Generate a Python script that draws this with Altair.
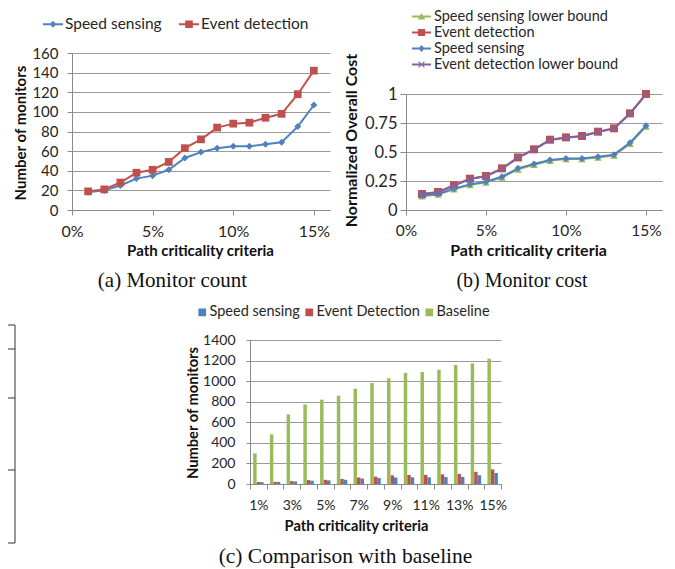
import altair as alt
import pandas as pd

W, H = 659, 561
FONT = "Lato"
SERIF = "Liberation Serif"
TXT = "#262626"
GRID = "#9a9a9a"
AXIS = "#8a8a8a"
BLUE, RED, GREEN, PURPLE = "#4F81BD", "#C0504D", "#9BBB59", "#8064A2"

# ---------------- data ----------------
pct = list(range(1, 16))
categories = [f"{p}%" for p in pct]

a_series = ["Speed sensing", "Event detection"]
a_speed = [18, 20, 25, 32, 35, 41, 53, 59, 63, 65, 65, 67, 69, 85, 107]
a_event = [19, 21, 28, 38, 41, 49, 63, 72, 84, 88, 89, 94, 98, 118, 142]

b_series = ["Speed sensing lower bound", "Event detection", "Speed sensing", "Event detection lower bound"]
b_speed_lb = [0.118, 0.133, 0.178, 0.215, 0.238, 0.280, 0.350, 0.390, 0.425, 0.440, 0.440, 0.453, 0.470, 0.572, 0.720]
b_event = [0.138, 0.155, 0.213, 0.270, 0.293, 0.359, 0.453, 0.523, 0.606, 0.626, 0.638, 0.675, 0.704, 0.833, 1.0]
b_speed = [0.124, 0.138, 0.184, 0.221, 0.244, 0.287, 0.359, 0.397, 0.431, 0.445, 0.445, 0.460, 0.477, 0.580, 0.727]
b_event_lb = [0.136, 0.152, 0.210, 0.267, 0.290, 0.355, 0.450, 0.520, 0.603, 0.623, 0.635, 0.672, 0.701, 0.830, 0.997]

c_series = ["Speed sensing", "Event Detection", "Baseline"]
c_speed = [18, 20, 25, 32, 35, 41, 53, 59, 63, 65, 65, 67, 69, 85, 107]
c_event = [19, 21, 28, 38, 41, 49, 63, 72, 84, 88, 89, 94, 98, 118, 142]
c_baseline = [298, 483, 677, 774, 820, 859, 927, 982, 1027, 1079, 1089, 1111, 1157, 1173, 1218]

captions = ["(a) Monitor count", "(b) Monitor cost", "(c) Comparison with baseline"]

# ---------------- marker paths ----------------
LINE = "M-1,-0.1H1V0.1H-1Z"
DIAMOND = "M0,-0.36L0.32,0L0,0.36L-0.32,0Z"
SQUARE = "M-0.38,-0.38H0.38V0.38H-0.38Z"
TRIANGLE = "M0,-0.38L0.4,0.32L-0.4,0.32Z"
XSMALL = "M-0.35,-0.27L-0.27,-0.35L0.35,0.27L0.27,0.35ZM0.27,-0.35L0.35,-0.27L-0.27,0.35L-0.35,0.27Z"
XMARK = "M-1,-0.75L-0.75,-1L1,0.75L0.75,1ZM0.75,-1L1,-0.75L-0.75,1L-1,0.75Z"


def long_df(names, value_lists, key="pct", keys=None):
    rows = []
    keys = keys if keys is not None else pct
    for name, vals in zip(names, value_lists):
        for k, v in zip(keys, vals):
            rows.append({key: k, "value": v, "series": name})
    return pd.DataFrame(rows)


def axis(**kw):
    base = dict(labelFont=FONT, labelColor=TXT, titleFont=FONT, titleColor="#111",
                titleFontWeight="bold", domainColor=AXIS, tickColor=AXIS, gridColor=GRID,
                labelFlush=False, labelOverlap=False, titleBaseline="middle")
    base.update(kw)
    return alt.Axis(**base)


def legend(**kw):
    base = dict(orient="none", title=None, labelFont=FONT, labelColor=TXT, padding=0,
                symbolStrokeWidth=0, rowPadding=0, labelLimit=400)
    base.update(kw)
    return alt.Legend(**base)


def line_panel(df, names, colors, shapes, sizes, leg_paths, xs, ys, x_axis, y_axis, leg):
    """Every layer gets the same explicit scales, so independent scales coincide."""
    layers = []
    first = True
    for name, shape, size in zip(names, shapes, sizes):
        sub = alt.Chart(df).transform_filter(alt.datum.series == name)
        for kind in ("line", "point"):
            x = alt.X("pct:Q", scale=xs, axis=x_axis if first else None)
            y = alt.Y("value:Q", scale=ys, axis=y_axis if first else None)
            first = False
            color = alt.Color("series:N", scale=alt.Scale(domain=names, range=colors), legend=None)
            if kind == "line":
                layers.append(sub.mark_line(strokeWidth=2).encode(x=x, y=y, color=color))
            else:
                layers.append(sub.mark_point(filled=True, shape=shape, size=size, opacity=1,
                                             strokeWidth=0).encode(x=x, y=y, color=color))
    leg_layer = alt.Chart(alt.Data(values=[])).mark_point(filled=True, opacity=1).encode(
        color=alt.Color("series:N", scale=alt.Scale(domain=names, range=colors), legend=leg),
        shape=alt.Shape("series:N", scale=alt.Scale(domain=names, range=leg_paths), legend=leg),
    )
    layers.append(leg_layer)
    return layers


# ---------------- panel (a) ----------------
dfa = long_df(a_series, [a_speed, a_event])
xs_a = alt.Scale(domain=[0, 16], range=[64, 322], nice=False, zero=False)
ys_a = alt.Scale(domain=[0, 160], range=[202, 45], nice=False)
xax_a = axis(orient="bottom", offset=202 - H, values=[0, 5, 10, 15],
             labelExpr="datum.value + '%'", grid=False, tickSize=5, labelPadding=8,
             labelFontSize=16, title="Path criticality criteria", titleFontSize=15,
             titleX=192, titleY=40)
yax_a = axis(orient="left", offset=-64, values=list(range(0, 161, 20)),
             labelExpr="'' + datum.value", grid=True, tickSize=5, labelPadding=9,
             labelFontSize=15, title="Number of monitors", titleFontSize=15,
             titleX=-52, titleY=124.5)
leg_a = legend(legendX=35, legendY=6, direction="horizontal", columns=2, symbolSize=400,
               labelFontSize=15.5, labelOffset=2, columnPadding=17)
panel_a = line_panel(dfa, a_series, [BLUE, RED], ["diamond", "square"], [49, 60],
                     [LINE + DIAMOND, LINE + SQUARE], xs_a, ys_a, xax_a, yax_a, leg_a)

# ---------------- panel (b) ----------------
dfb = long_df(b_series, [b_speed_lb, b_event, b_speed, b_event_lb])
xs_b = alt.Scale(domain=[0, 16], range=[398, 654], nice=False, zero=False)
ys_b = alt.Scale(domain=[0, 1], range=[202, 86], nice=False)
xax_b = axis(orient="bottom", offset=202 - H, values=[0, 5, 10, 15],
             labelExpr="datum.value + '%'", grid=False, tickSize=5, labelPadding=8,
             labelFontSize=15.5, title="Path criticality criteria", titleFontSize=16,
             titleX=520, titleY=40)
yax_b = axis(orient="left", offset=-398, values=[0, 0.25, 0.5, 0.75, 1],
             labelExpr="'' + datum.value", grid=True, tickSize=6, labelPadding=3,
             labelFontSize=16.5, title="Normalized Overall Cost", titleFontSize=16,
             titleX=-55, titleY=132)
leg_b = legend(legendX=404, legendY=-1, direction="vertical", columns=1, symbolSize=361,
               labelFontSize=14.5, labelOffset=3)
panel_b = line_panel(dfb, b_series, [GREEN, RED, BLUE, PURPLE],
                     ["triangle-up", "square", "diamond", XMARK], [56, 64, 49, 40],
                     [LINE + TRIANGLE, LINE + SQUARE, LINE + DIAMOND, LINE + XSMALL],
                     xs_b, ys_b, xax_b, yax_b, leg_b)

# ---------------- panel (c) ----------------
dfc = long_df(c_series, [c_speed, c_event, c_baseline], key="cat", keys=categories)
odd_expr = "parseInt(datum.value) % 2 == 1 ? datum.value : ''"
panel_c = alt.Chart(dfc).mark_bar(opacity=1).encode(
    x=alt.X("cat:N", sort=categories,
            scale=alt.Scale(domain=categories, range=[242, 493], paddingInner=0, paddingOuter=0),
            axis=axis(orient="bottom", offset=476 - H, labelExpr=odd_expr, labelAngle=0,
                      grid=False, tickBand="extent", tickSize=5, labelPadding=9,
                      labelFontSize=14, title="Path criticality criteria", titleFontSize=14.7,
                      titleX=348, titleY=42)),
    xOffset=alt.XOffset("series:N",
                        scale=alt.Scale(domain=["Baseline", "Event Detection", "Speed sensing"],
                                        paddingInner=0, paddingOuter=0.9)),
    y=alt.Y("value:Q", scale=alt.Scale(domain=[0, 1400], range=[476, 332], nice=False),
            axis=axis(orient="left", offset=-242, values=list(range(0, 1401, 200)),
                      labelExpr="'' + datum.value", grid=True, tickSize=4, labelPadding=11,
                      labelFontSize=14, title="Number of monitors", titleFontSize=14.7,
                      titleX=-57, titleY=404.5)),
    color=alt.Color("series:N", scale=alt.Scale(domain=c_series, range=[BLUE, RED, GREEN]),
                    legend=legend(legendX=187, legendY=297, direction="horizontal", columns=3,
                                  symbolType="square", symbolSize=60, labelFontSize=14.5,
                                  labelOffset=0, columnPadding=2)),
)

# ---------------- decorations (captions, table fragment) ----------------
one = alt.Data(values=[{}])


def caption(txt, x, y, size):
    return alt.Chart(one).mark_text(text=txt, font=SERIF, fontSize=size, color="#111",
                                    align="center", baseline="middle").encode(
        x=alt.value(x), y=alt.value(y))


def hline(y):
    return alt.Chart(one).mark_rule(color="#333", strokeWidth=1).encode(
        x=alt.value(0), x2=alt.value(7), y=alt.value(y))


decor = [
    caption(captions[0], 164.5, 272.5, 21),
    caption(captions[1], 514, 272.5, 20),
    caption(captions[2], 337.5, 549, 21.5),
    alt.Chart(one).mark_rule(color="#333", strokeWidth=1).encode(
        x=alt.value(7), y=alt.value(317), y2=alt.value(535)),
] + [hline(y) for y in (317, 341, 390, 462, 535)]

chart = alt.layer(*panel_a, *panel_b, panel_c, *decor).resolve_scale(
    x="independent", y="independent", color="independent", shape="independent"
).properties(
    width=W, height=H, padding=0, autosize=alt.AutoSizeParams(type="none")
).configure_view(stroke=None)

chart.save("out.html", embed_options={"renderer": "svg", "actions": False})
